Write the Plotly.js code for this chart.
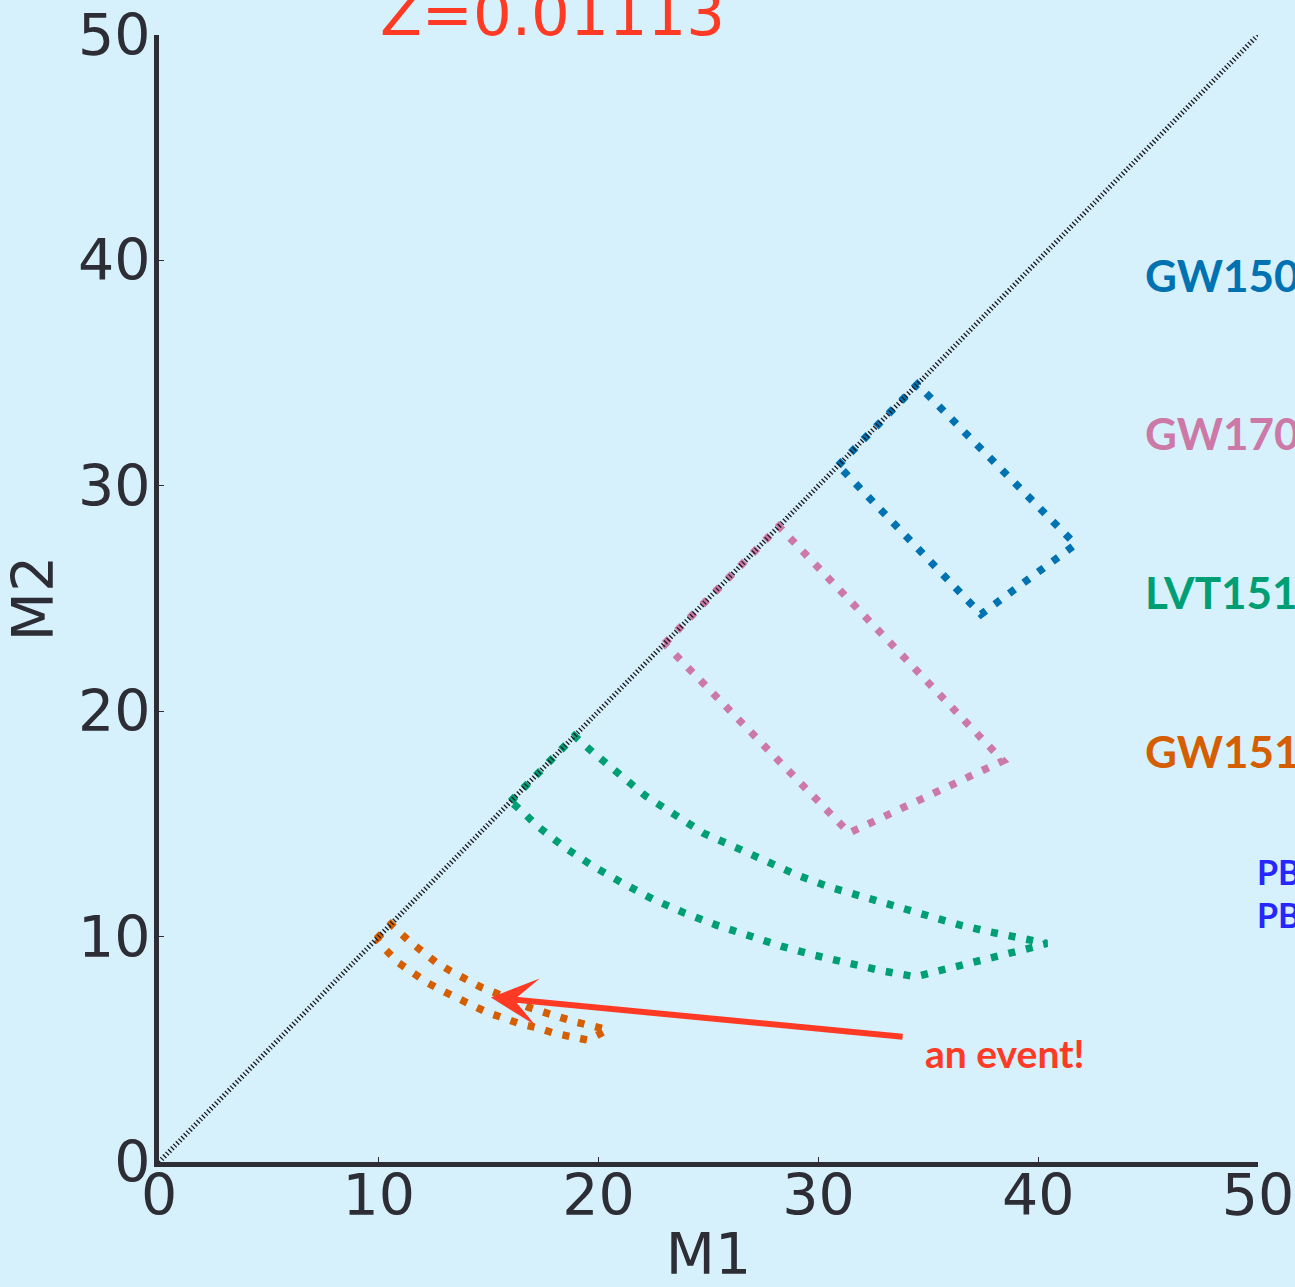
<!DOCTYPE html>
<html>
<head>
<meta charset="utf-8">
<script src="https://cdn.plot.ly/plotly-3.0.1.min.js"></script>
<style>
  html, body { margin: 0; padding: 0; background: #d6f1fc; overflow: hidden; }
  #chart { width: 1295px; height: 1287px; }
</style>
</head>
<body>
<div id="chart"></div>
<script>
// ---- data ----
const diagM1 = [0, 50];
const diagM2 = [0, 50];

const gw150914M1 = [30.9, 34.5, 41.7, 37.4, 30.9];
const gw150914M2 = [30.9, 34.5, 27.4, 24.3, 30.9];

const gw170104M1 = [23.0, 28.2, 38.4, 31.4, 23.0];
const gw170104M2 = [23.0, 28.2, 17.8, 14.6, 23.0];

const lvt151012M1 = [16.0, 18.9, 19.71, 20.92, 22.14, 23.5, 24.79, 26.23, 27.59, 29.03, 30.47, 31.99, 33.5, 34.94, 36.45, 37.74, 39.56, 40.4, 39.79, 38.95, 37.59, 36.0, 34.41, 32.85, 31.3, 29.79, 28.3, 26.83, 25.36, 23.88, 22.49, 21.12, 19.79, 18.45, 17.21, 16.58, 16.0];
const lvt151012M2 = [16.0, 18.9, 18.2, 17.17, 16.24, 15.39, 14.58, 13.96, 13.32, 12.73, 12.21, 11.77, 11.33, 10.88, 10.51, 10.22, 9.89, 9.7, 9.53, 9.33, 8.99, 8.66, 8.22, 8.49, 8.81, 9.18, 9.58, 10.03, 10.51, 11.06, 11.65, 12.36, 13.1, 13.96, 14.91, 15.5, 16.0];

const gw151226M1 = [9.9, 10.55, 11.32, 11.91, 12.59, 13.27, 13.91, 14.64, 15.32, 16.0, 16.77, 17.5, 18.18, 18.95, 19.73, 20.41, 19.5, 18.73, 17.95, 17.23, 16.45, 15.68, 15.0, 14.32, 13.59, 12.91, 12.23, 11.55, 10.91, 10.32, 9.9];
const gw151226M2 = [9.9, 10.55, 9.85, 9.36, 8.87, 8.47, 8.12, 7.76, 7.5, 7.19, 6.88, 6.65, 6.43, 6.21, 6.03, 5.86, 5.41, 5.55, 5.72, 5.95, 6.12, 6.39, 6.61, 6.92, 7.23, 7.59, 7.94, 8.39, 8.83, 9.41, 9.9];

const eventNames = ["GW150914", "GW170104", "LVT151012", "GW151226"];
const eventColors = ["#0072b2", "#cc79a7", "#009e73", "#d55e00"];
const labelM1 = 44.75;
const labelM2 = [39.35, 32.35, 25.3, 18.25];

const pbhLabels = ["PBH", "PBH"];
const pbhM1 = 49.86;
const pbhM2 = [12.87, 10.96];

const tickVals = [0, 10, 20, 30, 40, 50];
const tickText = ["0", "10", "20", "30", "40", "50"];

const titleText = "Z=0.01113";
const arrowHead = [15.1, 7.3];
const arrowTail = [33.9, 5.55];
const arrowText = "an event!";
const arrowTextPos = [38.5, 4.84];

// ---- styles ----
const red = "#ff3a24";
const axisColor = "#2c2d35";
const bg = "#d6f1fc";

function contour(xs, ys, color) {
  return {
    x: xs, y: ys, type: "scatter", mode: "lines",
    line: { color: color, width: 7.5, dash: "7px,11px" },
    hoverinfo: "skip", showlegend: false
  };
}

const traces = [
  contour(gw150914M1, gw150914M2, eventColors[0]),
  contour(gw170104M1, gw170104M2, eventColors[1]),
  contour(lvt151012M1, lvt151012M2, eventColors[2]),
  contour(gw151226M1, gw151226M2, eventColors[3]),
  {
    x: diagM1, y: diagM2, type: "scatter", mode: "lines",
    line: { color: "#1a1a20", width: 5, dash: "1.3px,2.4px" },
    hoverinfo: "skip", showlegend: false
  }
];

const annotations = [];
eventNames.forEach((n, i) => {
  annotations.push({
    x: labelM1, y: labelM2[i], xref: "x", yref: "y",
    text: "<b>" + n + "</b>", showarrow: false,
    xanchor: "left", yanchor: "middle",
    font: { family: "Lato, 'Noto Sans', sans-serif", size: 44, color: eventColors[i] }
  });
});
pbhLabels.forEach((t, i) => {
  annotations.push({
    x: pbhM1, y: pbhM2[i], xref: "x", yref: "y",
    text: "<b>" + t + "</b>", showarrow: false,
    xanchor: "left", yanchor: "middle",
    font: { family: "Lato, 'Noto Sans', sans-serif", size: 34, color: "#2626ff" }
  });
});
annotations.push({
  x: arrowHead[0], y: arrowHead[1], xref: "x", yref: "y",
  ax: arrowTail[0], ay: arrowTail[1], axref: "x", ayref: "y",
  text: "", showarrow: true, arrowhead: 3, arrowsize: 1.3,
  arrowwidth: 6, arrowcolor: red
});
annotations.push({
  x: arrowTextPos[0], y: arrowTextPos[1], xref: "x", yref: "y",
  text: "<b>" + arrowText + "</b>", showarrow: false,
  xanchor: "center", yanchor: "middle",
  font: { family: "Lato, 'Noto Sans', sans-serif", size: 39, color: red }
});
annotations.push({
  x: 17.9, y: 1.0, xref: "x", yref: "paper",
  text: titleText, showarrow: false,
  xanchor: "center", yanchor: "bottom", yshift: -16,
  font: { family: "DejaVu Sans", size: 61, color: red }
});

const axisCommon = {
  range: [0, 50], tickvals: tickVals, ticktext: tickText,
  showgrid: false, zeroline: false,
  showline: true, linecolor: axisColor, linewidth: 5,
  ticks: "inside", ticklen: 5, tickwidth: 1, tickcolor: axisColor,
  tickfont: { family: "DejaVu Sans", size: 57, color: axisColor },
  fixedrange: true
};

const layout = {
  width: 1295, height: 1287,
  margin: { l: 159, r: 37, t: 35, b: 125, pad: 0 },
  paper_bgcolor: bg, plot_bgcolor: bg,
  showlegend: false,
  xaxis: Object.assign({}, axisCommon, {
    ticklabelstandoff: -20,
    title: { text: "M1", font: { family: "DejaVu Sans", size: 57, color: axisColor }, standoff: 36 }
  }),
  yaxis: Object.assign({}, axisCommon, {
    ticklabelstandoff: -8,
    title: { text: "M2", font: { family: "DejaVu Sans", size: 57, color: axisColor }, standoff: 14 }
  }),
  annotations: annotations
};

Plotly.newPlot("chart", traces, layout, { displayModeBar: false, staticPlot: true });
</script>
</body>
</html>
